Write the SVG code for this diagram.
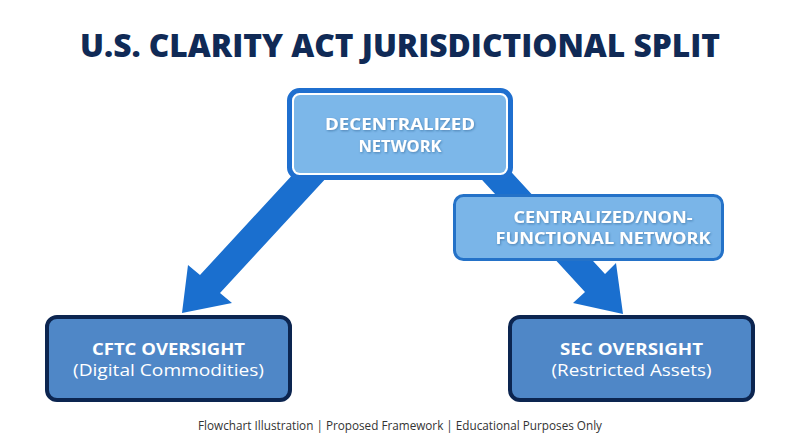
<svg xmlns="http://www.w3.org/2000/svg" width="800" height="447" viewBox="0 0 800 447">
  <defs>
    <filter id="ts" x="-10%" y="-30%" width="120%" height="160%">
      <feDropShadow dx="0.8" dy="1" stdDeviation="0.8" flood-color="#1b3f70" flood-opacity="0.45"/>
    </filter>
    <style>
      .title{font-family:"Open Sans","Liberation Sans",sans-serif;font-weight:800;font-size:32px;fill:#102a56;}
      .lbl{font-family:"Open Sans","Liberation Sans",sans-serif;font-weight:700;font-size:16.5px;fill:#ffffff;text-anchor:middle;}
      .sub{font-family:"Open Sans","Liberation Sans",sans-serif;font-weight:400;font-size:16.5px;fill:#ffffff;text-anchor:middle;}
      .foot{font-family:"Open Sans","Liberation Sans",sans-serif;font-size:12px;fill:#333333;text-anchor:middle;}
      .arrow{fill:#1a6fcf;}
      .bottom{fill:#4f87c7;stroke:#0c2550;stroke-width:4;}
    </style>
  </defs>
  <rect width="800" height="447" fill="#ffffff"/>
  <text class="title" x="400" y="57" text-anchor="middle" textLength="640" lengthAdjust="spacingAndGlyphs">U.S. CLARITY ACT JURISDICTIONAL SPLIT</text>

  <g id="connectors">
    <polygon class="arrow" points="308,158 200,275 188,265 182,313 232,303 220,293 328,176"/>
    <polygon class="arrow" points="472,169 585,292 573,303 623,314 616,263 605,274 492,151"/>
  </g>

  <g id="decentralized">
    <rect x="289.5" y="90.5" width="221" height="87" rx="10" fill="#ffffff" stroke="#1f6fcf" stroke-width="5"/>
    <rect x="294" y="95" width="212" height="78" rx="6" fill="#7cb7e9"/>
    <g filter="url(#ts)">
      <text class="lbl" x="400" y="130" textLength="150" lengthAdjust="spacingAndGlyphs">DECENTRALIZED</text>
      <text class="lbl" x="400" y="151.5">NETWORK</text>
    </g>
  </g>

  <g id="centralized">
    <rect x="454.5" y="195.5" width="268" height="64" rx="9" fill="#7ab5e8" stroke="#2472c8" stroke-width="3"/>
    <g filter="url(#ts)">
      <text class="lbl" x="603" y="223" textLength="179" lengthAdjust="spacingAndGlyphs">CENTRALIZED/NON-</text>
      <text class="lbl" x="603" y="244" textLength="215" lengthAdjust="spacingAndGlyphs">FUNCTIONAL NETWORK</text>
    </g>
  </g>

  <g id="cftc">
    <rect class="bottom" x="47" y="317" width="243" height="83" rx="10"/>
    <text class="lbl" x="168.5" y="355" textLength="153" lengthAdjust="spacingAndGlyphs">CFTC OVERSIGHT</text>
    <text class="sub" x="168.5" y="376" textLength="191" lengthAdjust="spacingAndGlyphs">(Digital Commodities)</text>
  </g>

  <g id="sec">
    <rect class="bottom" x="510" y="317" width="243" height="83" rx="10"/>
    <text class="lbl" x="631.5" y="355" textLength="143" lengthAdjust="spacingAndGlyphs">SEC OVERSIGHT</text>
    <text class="sub" x="631.5" y="376" textLength="160" lengthAdjust="spacingAndGlyphs">(Restricted Assets)</text>
  </g>

  <text class="foot" x="400" y="430" textLength="404" lengthAdjust="spacingAndGlyphs">Flowchart Illustration | Proposed Framework | Educational Purposes Only</text>
</svg>
